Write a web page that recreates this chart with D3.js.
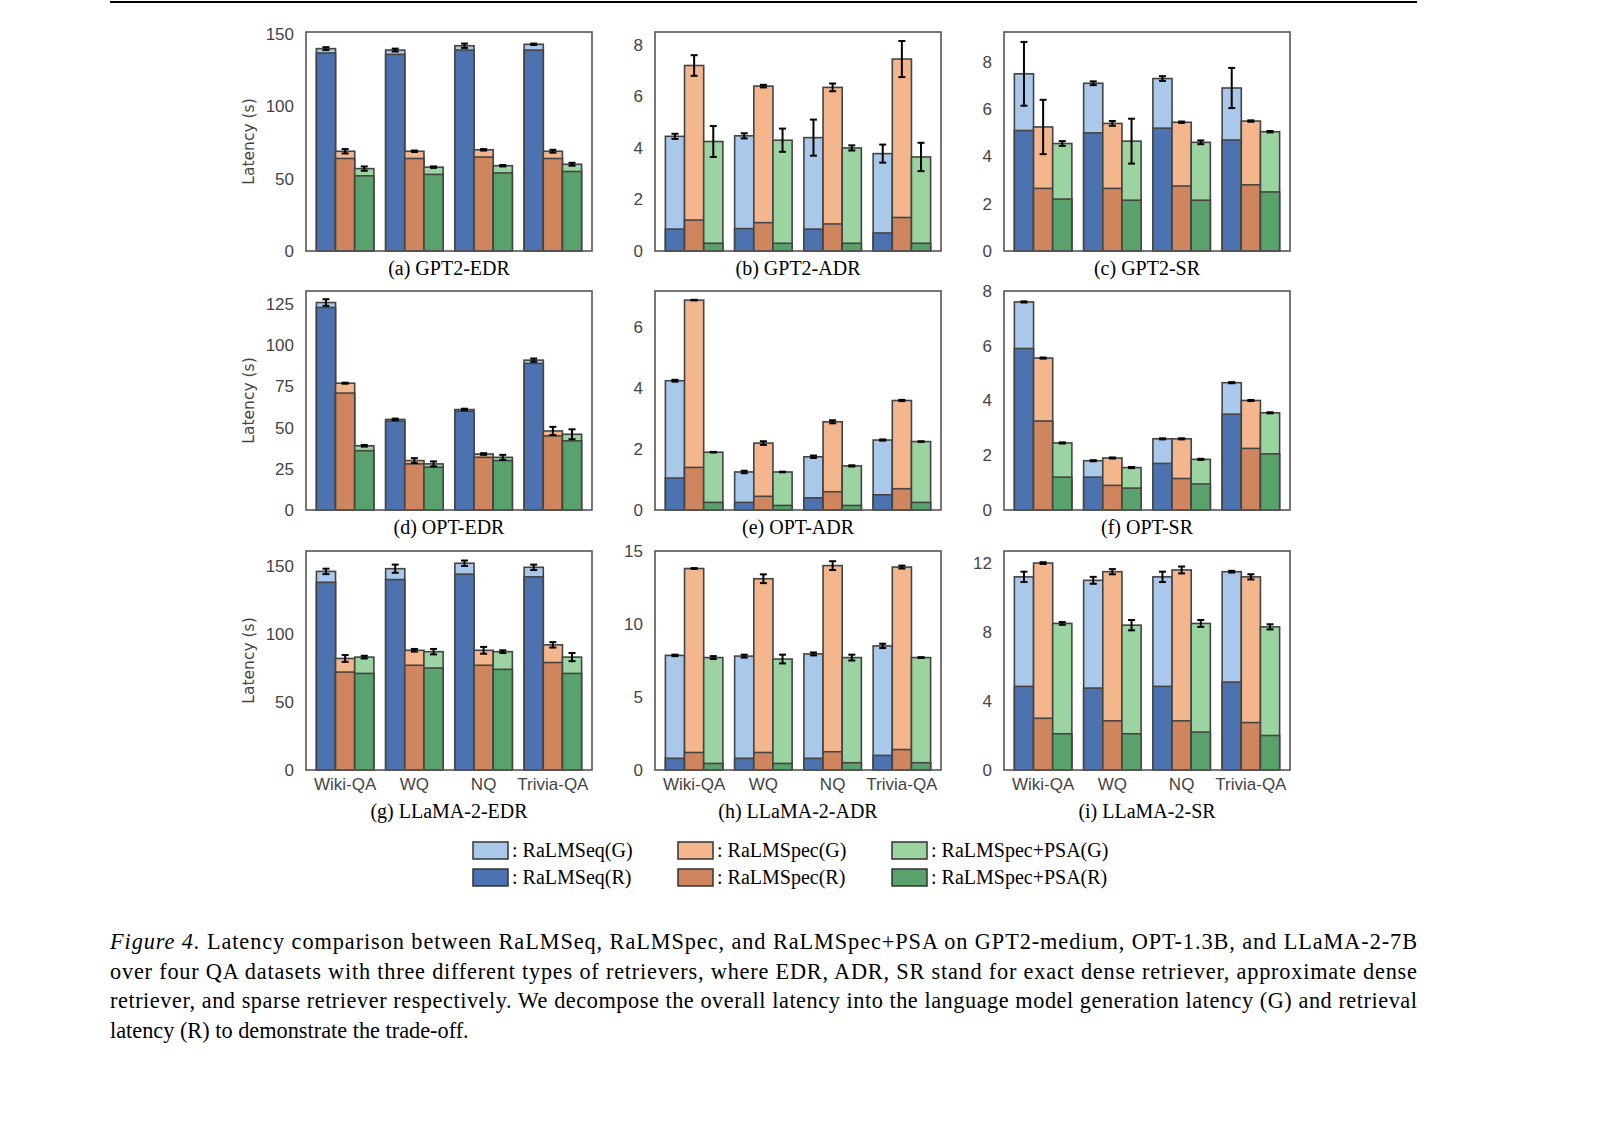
<!DOCTYPE html>
<html><head><meta charset="utf-8">
<script src="https://cdn.jsdelivr.net/npm/d3@7"></script>
<style>body{margin:0;background:#fff}</style></head>
<body><svg id="c" width="1618" height="1128"></svg>
<script>
const datasets = ["Wiki-QA","WQ","NQ","Trivia-QA"];
const methods = ["RaLMSeq","RaLMSpec","RaLMSpec+PSA"];
const titles = ["(a) GPT2-EDR","(b) GPT2-ADR","(c) GPT2-SR","(d) OPT-EDR","(e) OPT-ADR","(f) OPT-SR","(g) LLaMA-2-EDR","(h) LLaMA-2-ADR","(i) LLaMA-2-SR"];
const yMax = [151.5,8.5,9.27,133,7.2,8,161,15,12.7];
const yTicks = [[0,50,100,150],[0,2,4,6,8],[0,2,4,6,8],[0,25,50,75,100,125],[0,2,4,6],[0,2,4,6,8],[0,50,100,150],[0,5,10,15],[0,4,8,12]];
const totals = [
 [[140,139,142,143],[69,69,70,69],[57,58,59,60]],
 [[4.45,4.47,4.4,3.78],[7.2,6.4,6.35,7.45],[4.25,4.3,4.0,3.65]],
 [[7.5,7.1,7.3,6.9],[5.25,5.4,5.45,5.5],[4.55,4.65,4.6,5.05]],
 [[126,55,61,91],[77,30,34,48],[39,28,32,46]],
 [[4.25,1.25,1.75,2.3],[6.9,2.2,2.9,3.6],[1.9,1.25,1.45,2.25]],
 [[7.6,1.8,2.6,4.65],[5.55,1.9,2.6,4.0],[2.45,1.55,1.85,3.55]],
 [[146,148,152,149],[82,88,88,92],[83,87,87,83]],
 [[7.85,7.8,7.95,8.5],[13.8,13.1,14.0,13.9],[7.7,7.6,7.7,7.7]],
 [[11.2,11.0,11.2,11.5],[12.0,11.5,11.6,11.2],[8.5,8.4,8.5,8.3]]
];
const retr = [
 [[137,136,139,139],[64,64,65,64],[52,53,54,55]],
 [[0.85,0.87,0.85,0.7],[1.2,1.1,1.05,1.3],[0.3,0.3,0.3,0.3]],
 [[5.1,5.0,5.2,4.7],[2.65,2.65,2.75,2.8],[2.2,2.15,2.15,2.5]],
 [[123,54,60,89],[71,28,32,45],[36,26,30,42]],
 [[1.05,0.25,0.4,0.5],[1.4,0.45,0.6,0.7],[0.25,0.15,0.15,0.25]],
 [[5.9,1.2,1.7,3.5],[3.25,0.9,1.15,2.25],[1.2,0.8,0.95,2.05]],
 [[138,140,144,142],[72,77,77,79],[71,75,74,71]],
 [[0.8,0.8,0.8,1.0],[1.2,1.2,1.25,1.4],[0.45,0.45,0.5,0.5]],
 [[4.85,4.75,4.85,5.1],[3.0,2.85,2.85,2.75],[2.1,2.1,2.2,2.0]]
];
const errs = [
 [[1,1,1.5,0.5],[1.5,0.5,0.5,1],[1.5,0.5,0.5,1]],
 [[0.1,0.1,0.7,0.35],[0.4,0.05,0.15,0.7],[0.6,0.45,0.1,0.55]],
 [[1.35,0.08,0.1,0.85],[1.15,0.1,0.03,0.03],[0.1,0.95,0.08,0.03]],
 [[2,0.5,0.5,1],[0.3,1.5,0.5,2.5],[0.5,1.5,1.5,3]],
 [[0.03,0.04,0.04,0.02],[0.01,0.06,0.05,0.02],[0.01,0.01,0.02,0.01]],
 [[0.02,0.02,0.02,0.02],[0.02,0.02,0.02,0.02],[0.02,0.02,0.02,0.02]],
 [[2,3,2,2],[2.5,1,2.5,2],[1,2,1,3]],
 [[0.05,0.1,0.1,0.15],[0.03,0.3,0.3,0.1],[0.1,0.3,0.2,0.03]],
 [[0.3,0.2,0.3,0.05],[0.05,0.15,0.2,0.15],[0.08,0.3,0.2,0.15]]
];
const colG = ["#a9c8ea","#f4b68d","#9bd3a1"];
const colR = ["#4c72b0","#cf865f","#59a26c"];
const legendLabels = [": RaLMSeq(G)",": RaLMSpec(G)",": RaLMSpec+PSA(G)",": RaLMSeq(R)",": RaLMSpec(R)",": RaLMSpec+PSA(R)"];

const svg = d3.select("#c");
svg.append("line").attr("x1",110).attr("x2",1417).attr("y1",2).attr("y2",2).attr("stroke","#000").attr("stroke-width",2);
const colX = [306,655,1004], rowY = [32,291,551], W = 286, H = 219;
titles.forEach((t,p)=>{
  const r = Math.floor(p/3), c = p%3;
  const g = svg.append("g").attr("transform",`translate(${colX[c]},${rowY[r]})`);
  const y = d3.scaleLinear().domain([0,yMax[p]]).range([H,0]);
  const x0 = d3.scaleBand().domain(datasets).range([0,W]).paddingInner(0.17).paddingOuter(0.15);
  const x1 = d3.scaleBand().domain(methods).range([0,x0.bandwidth()]);
  const ya = g.append("g").call(d3.axisLeft(y).tickValues(yTicks[p]).tickSize(0).tickPadding(12));
  ya.select(".domain").remove();
  ya.selectAll("text").attr("font-family","Liberation Sans, Arial").attr("font-size",17).attr("fill","#444");
  if (r===2){
    const xa = g.append("g").attr("transform",`translate(0,${H})`).call(d3.axisBottom(x0).tickSize(0).tickPadding(8));
    xa.select(".domain").remove();
    xa.selectAll("text").attr("font-family","Liberation Sans, Arial").attr("font-size",17).attr("fill","#444");
  }
  datasets.forEach((d,di)=>{
    methods.forEach((m,mi)=>{
      const bx = x0(d)+x1(m), bw = x1.bandwidth();
      const tot = totals[p][mi][di], rv = retr[p][mi][di], e = errs[p][mi][di];
      g.append("rect").attr("x",bx).attr("width",bw).attr("y",y(tot)).attr("height",y(0)-y(tot))
        .attr("fill",colG[mi]).attr("stroke","#444").attr("stroke-width",1.6);
      g.append("rect").attr("x",bx).attr("width",bw).attr("y",y(rv)).attr("height",y(0)-y(rv))
        .attr("fill",colR[mi]).attr("stroke","#444").attr("stroke-width",1.6);
      const cx = bx+bw/2;
      g.append("line").attr("x1",cx).attr("x2",cx).attr("y1",y(tot-e)).attr("y2",y(tot+e)).attr("stroke","#000").attr("stroke-width",2);
      [tot-e,tot+e].forEach(v=>g.append("line").attr("x1",cx-3.5).attr("x2",cx+3.5).attr("y1",y(v)).attr("y2",y(v)).attr("stroke","#000").attr("stroke-width",2));
    });
  });
  g.append("rect").attr("width",W).attr("height",H).attr("fill","none").attr("stroke","#555").attr("stroke-width",1.6);
  if (c===0) g.append("text").attr("transform",`translate(-52,${H/2}) rotate(-90)`).attr("text-anchor","middle")
      .attr("font-family","DejaVu Sans, sans-serif").attr("font-size",15.5).attr("fill","#444").text("Latency (s)");
  g.append("text").attr("x",W/2).attr("y",r===2?H+48:H+24).attr("text-anchor","middle")
    .attr("font-family","Liberation Serif, Times New Roman, serif").attr("font-size",20).attr("fill","#000").text(t);
});
const lx = [473,678,892], ly = [842,869];
legendLabels.forEach((l,i)=>{
  const c = i%3, r = Math.floor(i/3);
  svg.append("rect").attr("x",lx[c]).attr("y",ly[r]).attr("width",35).attr("height",17)
    .attr("fill", r===0?colG[c]:colR[c]).attr("stroke","#333").attr("stroke-width",1.5);
  svg.append("text").attr("x",lx[c]+39).attr("y",ly[r]+15).attr("font-family","Liberation Serif, serif").attr("font-size",20).text(l);
});
const lines = [
 ["Figure 4."," Latency comparison between RaLMSeq, RaLMSpec, and RaLMSpec+PSA on GPT2-medium, OPT-1.3B, and LLaMA-2-7B"],
 [null,"over four QA datasets with three different types of retrievers, where EDR, ADR, SR stand for exact dense retriever, approximate dense"],
 [null,"retriever, and sparse retriever respectively. We decompose the overall latency into the language model generation latency (G) and retrieval"],
 [null,"latency (R) to demonstrate the trade-off."]
];
lines.forEach((ln,i)=>{
  const t = svg.append("text").attr("x",110).attr("y",949+i*29.7).attr("font-family","Liberation Serif, Times New Roman, serif").attr("font-size",22.3);
  if (i<3) t.attr("textLength",1307).attr("lengthAdjust","spacing");
  if (ln[0]) t.append("tspan").attr("font-style","italic").text(ln[0]);
  t.append("tspan").text(ln[1]);
});
</script></body></html>
